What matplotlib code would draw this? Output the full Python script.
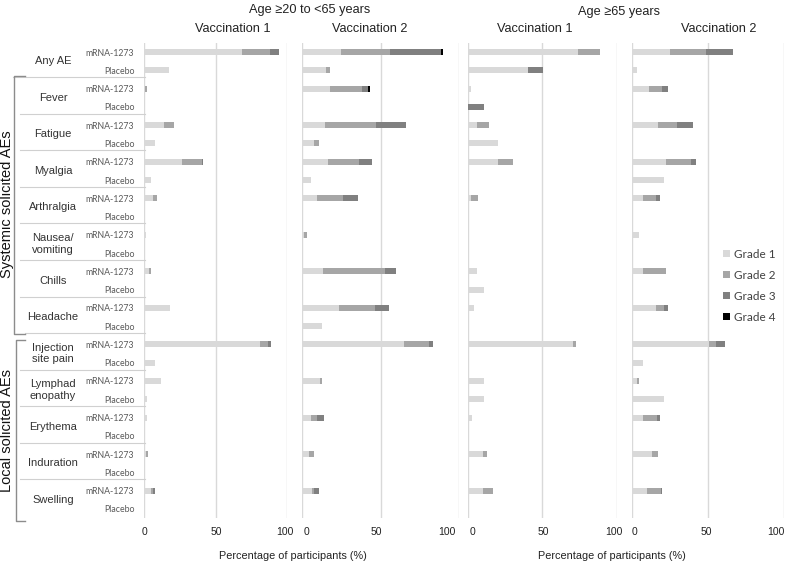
import matplotlib.pyplot as plt
from matplotlib.patches import Patch
from matplotlib.transforms import blended_transform_factory

# Categories (each one has an mRNA-1273 row and a Placebo row)
categories = ["Any AE", "Fever", "Fatigue", "Myalgia", "Arthralgia", "Nausea/\nvomiting",
              "Chills", "Headache", "Injection\nsite pain", "Lymphad\nenopathy",
              "Erythema", "Induration", "Swelling"]
groups = ["mRNA-1273", "Placebo"]
grades = ["Grade 1", "Grade 2", "Grade 3", "Grade 4"]
grade_colors = ["#d9d9d9", "#a6a6a6", "#808080", "#000000"]
panel_titles = ["Vaccination 1", "Vaccination 2", "Vaccination 1", "Vaccination 2"]
age_titles = ["Age \u226520 to <65 years", "Age \u226565 years"]
x_ticks = [0, 50, 100]

# Percentages per row: mRNA, placebo, mRNA, placebo, ...
young_v1_g1 = [68.8, 17.5, 0.6, 0, 14.0, 7.7, 26.8, 5.1, 6.5, 0, 1.2, 0, 3.5, 0,
               18.2, 0, 81.1, 7.7, 12.1, 2.3, 1.9, 0, 1.5, 0, 5.0, 0]
young_v1_g2 = [19.3, 0, 1.3, 0, 7.2, 0, 13.5, 0, 2.3, 0, 0, 0, 1.6, 0,
               0, 0, 5.9, 0, 0, 0, 0, 0, 1.2, 0, 1.5, 0]
young_v1_g3 = [6.3, 0, 0, 0, 0, 0, 0.9, 0, 0, 0, 0, 0, 0, 0,
               0, 0, 1.6, 0, 0, 0, 0, 0, 0, 0, 1.5, 0]
young_v1_g4 = [0] * 26

young_v2_g1 = [24.8, 15.2, 17.7, 0, 14.5, 7.7, 16.5, 5.3, 9.2, 0, 1.0, 0, 13.5, 0,
               23.7, 12.8, 65.2, 0, 11.3, 0, 5.3, 0, 4.3, 0, 6.4, 0]
young_v2_g2 = [31.0, 2.6, 20.5, 0, 32.7, 2.8, 19.9, 0, 16.7, 0, 2.0, 0, 39.5, 0,
               22.9, 0, 16.0, 0, 1.3, 0, 3.8, 0, 3.2, 0, 1.1, 0]
young_v2_g3 = [33.1, 0, 4.1, 0, 19.2, 0, 8.3, 0, 9.6, 0, 0, 0, 7.1, 0,
               8.5, 0, 2.4, 0, 0, 0, 4.5, 0, 0, 0, 3.2, 0]
young_v2_g4 = [1.1, 0, 1.1, 0, 0, 0, 0, 0, 0, 0, 0, 0, 0, 0,
               0, 0, 0, 0, 0, 0, 0, 0, 0, 0, 0, 0]

old_v1_g1 = [74.3, 40.1, 1.8, 0, 6.1, 20.3, 20.3, 0, 1.8, 0, 0, 0, 6.1, 10.4,
             4.1, 0, 70.3, 0, 10.4, 10.4, 2.3, 0, 9.9, 0, 10.1, 0]
old_v1_g2 = [14.2, 0, 0, 0, 8.1, 0, 10.1, 0, 4.5, 0, 0, 0, 0, 0,
             0, 0, 2.3, 0, 0, 0, 0, 0, 2.5, 0, 6.3, 0]
old_v1_g3 = [0, 10.4, 0, 10.4, 0, 0, 0, 0, 0, 0, 0, 0, 0, 0,
             0, 0, 0, 0, 0, 0, 0, 0, 0, 0, 0, 0]
old_v1_g4 = [0] * 26

old_v2_g1 = [24.8, 2.9, 11.2, 0, 16.7, 0, 22.1, 20.6, 7.2, 0, 4.4, 0, 7.2, 0,
             15.4, 0, 50.2, 7.0, 2.9, 20.6, 7.0, 0, 12.7, 0, 9.9, 0]
old_v2_g2 = [23.5, 0, 8.3, 0, 12.5, 0, 16.4, 0, 8.1, 0, 0, 0, 15.1, 0,
             5.5, 0, 4.8, 0, 1.5, 0, 9.2, 0, 4.2, 0, 8.8, 0]
old_v2_g3 = [17.8, 0, 3.9, 0, 11.0, 0, 3.1, 0, 2.8, 0, 0, 0, 0, 0,
             2.8, 0, 5.7, 0, 0, 0, 2.0, 0, 0, 0, 1.1, 0]
old_v2_g4 = [0] * 26

panels = [
    [young_v1_g1, young_v1_g2, young_v1_g3, young_v1_g4],
    [young_v2_g1, young_v2_g2, young_v2_g3, young_v2_g4],
    [old_v1_g1, old_v1_g2, old_v1_g3, old_v1_g4],
    [old_v2_g1, old_v2_g2, old_v2_g3, old_v2_g4],
]

W, H = 787, 565
title_font = "Liberation Sans"
small_font = "Lato"
text_color = "#404040"

fig = plt.figure(figsize=(W / 100, H / 100), dpi=100)

# panel placement in pixels: (left, width); all share top=43, bottom=518
panel_px = [(144, 143), (302.3, 156.5), (468.3, 148.3), (632.3, 152)]
# the tick labels under each panel sit a little apart from the grid lines
tick_label_px = [(144, 216, 285), (306, 376, 447), (473, 543, 614), (634, 706, 776)]
top_px, bottom_px = 43, 518

n_rows = len(categories) * len(groups)
rows = list(range(n_rows))
row_labels = groups * len(categories)

axes = []
for (left, width), series, title in zip(panel_px, panels, panel_titles):
    ax = fig.add_axes([left / W, 1 - bottom_px / H, width / W, (bottom_px - top_px) / H])
    base = [0] * n_rows
    for vals, color in zip(series, grade_colors):
        ax.barh(rows, vals, left=base, height=0.33, color=color, linewidth=0)
        base = [b + v for b, v in zip(base, vals)]
    ax.set_xlim(0, 100)
    ax.set_ylim(n_rows - 0.5, -0.5)
    ax.set_xticks(x_ticks)
    ax.set_xticklabels([])
    ax.xaxis.grid(True, color="#d9d9d9", linewidth=1)
    ax.set_axisbelow(True)
    for s in ax.spines.values():
        s.set_visible(False)
    ax.tick_params(axis="x", length=0)
    ax.set_yticks([])
    axes.append(ax)

for positions in tick_label_px:
    for x, t in zip(positions, x_ticks):
        fig.text(x / W, 1 - 532 / H, str(t), ha="center", va="center",
                 fontfamily=title_font, fontsize=7.5, color="#222222")

# row labels on the first panel
ax1 = axes[0]
ax1.set_yticks(rows)
ax1.set_yticklabels(row_labels, fontfamily=small_font, fontsize=6.3, color="#595959")
ax1.tick_params(axis="y", length=0, pad=7)

tr = blended_transform_factory(fig.transFigure, ax1.transData)

# category names
for i, cat in enumerate(categories):
    ax1.text(53 / W, 2 * i + 0.5, cat, transform=tr, ha="center", va="center",
             multialignment="left", fontfamily=title_font, fontsize=8, color="#333333")

# separators between categories
for i in range(len(categories) - 1):
    y = 2 * i + 1.38
    x0 = 13 if i == 0 else (25 if i == 7 else 20)
    ax1.plot([x0 / W, 145 / W], [y, y], transform=tr, color="#d0d0d0",
             linewidth=0.8, clip_on=False)

# group brackets
brackets = [("Systemic solicited AEs", 1.28, 15.42, 14),
            ("Local solicited AEs", 15.75, 25.65, 16)]
for label, y0, y1, xb in brackets:
    ax1.plot([25 / W, xb / W, xb / W, 25 / W], [y0, y0, y1, y1], transform=tr,
             color="#8c8c8c", linewidth=1, clip_on=False)
    ax1.text(7.5 / W, (y0 + y1) / 2, label, transform=tr, rotation=90, ha="center",
             va="center", fontfamily=title_font, fontsize=10.5, color="#111111")

# titles
for x, y, t in zip([310, 619], [10, 12], age_titles):
    fig.text(x / W, 1 - y / H, t, ha="center", va="center", fontfamily=title_font,
             fontsize=9.2, color="#222222")
for x, t in zip([233, 370, 535, 719], panel_titles):
    fig.text(x / W, 1 - 29 / H, t, ha="center", va="center", fontfamily=title_font,
             fontsize=9.2, color="#222222")
for x in [293, 612]:
    fig.text(x / W, 1 - 556 / H, "Percentage of participants (%)", ha="center",
             va="center", fontfamily=title_font, fontsize=7.8, color="#222222")

# legend
handles = [Patch(facecolor=c, edgecolor="none") for c in grade_colors]
fig.legend(handles, grades, loc="upper left", bbox_to_anchor=(718 / W, 1 - 244 / H),
           frameon=False, handlelength=0.6, handleheight=0.6, handletextpad=0.35,
           labelspacing=0.85, borderaxespad=0,
           prop={"family": small_font, "size": 8.5}, labelcolor=text_color)

fig.savefig("out.png", dpi=100)
